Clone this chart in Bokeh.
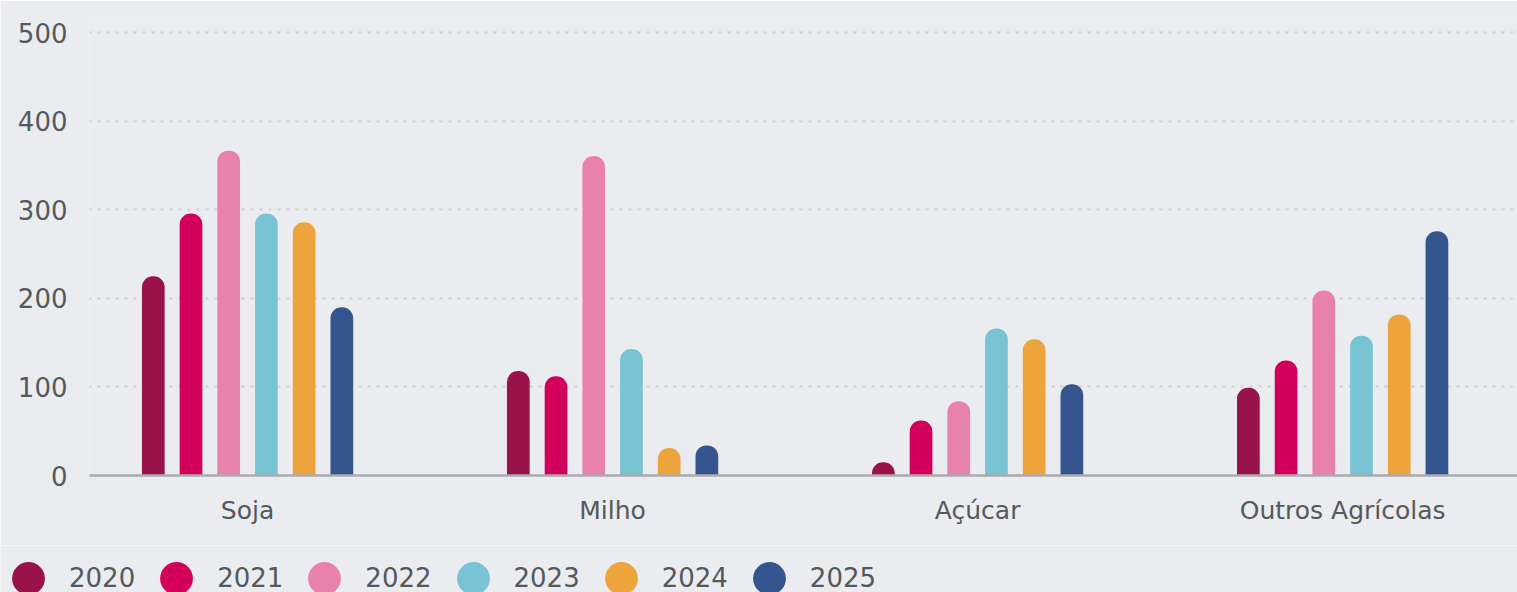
from bokeh.plotting import figure
from bokeh.layouts import column
from bokeh.models import Range1d, FixedTicker, Legend, LegendItem, ColumnDataSource
from bokeh.embed import file_html
from bokeh.resources import INLINE

categories = ["Soja", "Milho", "Açúcar", "Outros Agrícolas"]
years = ["2020", "2021", "2022", "2023", "2024", "2025"]
v2020 = [225, 118, 15, 99]
v2021 = [296, 112, 62, 130]
v2022 = [367, 361, 84, 209]
v2023 = [296, 143, 166, 158]
v2024 = [286, 31, 154, 182]
v2025 = [190, 34, 103, 276]
y_ticks = [0, 100, 200, 300, 400, 500]

series = [v2020, v2021, v2022, v2023, v2024, v2025]
colors = ["#9a124c", "#d2005a", "#e882ad", "#78c4d4", "#eea43c", "#35558e"]

BG = "#ebecf0"
TXT = "#54595c"
FONT = "DejaVu Sans"

p = figure(width=1517, height=545, output_backend="svg", toolbar_location=None,
           x_range=Range1d(0.067, 3.979), y_range=Range1d(0, 514),
           min_border_left=89, min_border_right=0, min_border_top=20, min_border_bottom=70)
p.frame_align = False
p.background_fill_color = BG
p.border_fill_color = BG
p.outline_line_color = None

pitch = 0.1033
bw = 0.0622
for j, (yr, vals, c) in enumerate(zip(years, series, colors)):
    xs = [i + 0.5 + (j - 2.5) * pitch for i in range(len(categories))]
    src = ColumnDataSource(dict(x=xs, top=vals))
    p.vbar(x="x", top="top", bottom=0, width=bw, source=src, fill_color=c,
           line_color=None, border_radius=(11, 11, 0, 0))

p.yaxis.ticker = FixedTicker(ticks=y_ticks)
p.yaxis.axis_line_color = None
p.yaxis.major_tick_line_color = None
p.yaxis.minor_tick_line_color = None
p.yaxis.major_label_standoff = 16
p.yaxis.major_label_text_font = FONT
p.yaxis.major_label_text_font_size = "26px"
p.yaxis.major_label_text_color = TXT

p.xaxis.ticker = FixedTicker(ticks=[i + 0.5 for i in range(len(categories))])
p.xaxis.major_label_overrides = {i + 0.5: c for i, c in enumerate(categories)}
p.xaxis.axis_line_color = "#a9abae"
p.xaxis.axis_line_width = 2.5
p.xaxis.major_tick_line_color = None
p.xaxis.minor_tick_line_color = None
p.xaxis.major_label_standoff = 14
p.xaxis.major_label_text_font = FONT
p.xaxis.major_label_text_font_size = "25px"
p.xaxis.major_label_text_color = TXT

p.xgrid.grid_line_color = None
p.ygrid.grid_line_color = "#d3d5d9"
p.ygrid.grid_line_width = 2.5
p.ygrid.grid_line_dash = "1 8"
p.ygrid.grid_line_cap = "round"

# legend in its own strip
lg = figure(width=1517, height=47, output_backend="svg", toolbar_location=None,
            x_range=Range1d(0, 1), y_range=Range1d(0, 1),
            x_axis_type=None, y_axis_type=None,
            min_border_left=0, min_border_right=0, min_border_top=0, min_border_bottom=0)
lg.frame_align = False
lg.background_fill_color = BG
lg.border_fill_color = BG
lg.outline_line_color = None
lg.xgrid.visible = False
lg.ygrid.visible = False
items = []
for yr, c in zip(years, colors):
    r = lg.circle(x=[float("nan")], y=[float("nan")], radius=1, fill_color=c, line_color=None)
    items.append(LegendItem(label=yr, renderers=[r]))
legend = Legend(items=items, orientation="horizontal", location=(-13, -27),
                glyph_width=82, glyph_height=82, label_standoff=0, spacing=0,
                padding=0, margin=0, border_line_color=None, background_fill_alpha=0,
                label_text_font=FONT, label_text_font_size="26px", label_text_color=TXT)
lg.add_layout(legend, "center")

open("out.html", "w").write(file_html(column(p, lg, spacing=0), INLINE))
